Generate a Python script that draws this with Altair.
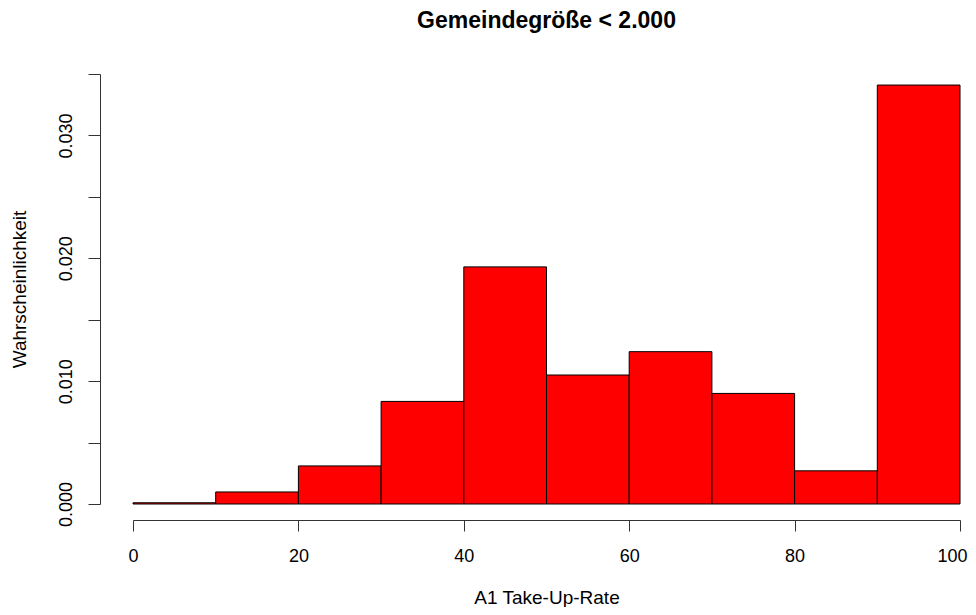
import altair as alt
import pandas as pd

bin_start = [0, 10, 20, 30, 40, 50, 60, 70, 80, 90]
bin_end = [10, 20, 30, 40, 50, 60, 70, 80, 90, 100]
density = [0.0001, 0.00098, 0.0031, 0.00835, 0.0193, 0.0105, 0.0124, 0.0090, 0.0027, 0.0341]

x_ticks = [0, 20, 40, 60, 80, 100]
y_ticks = [0, 0.005, 0.01, 0.015, 0.02, 0.025, 0.03, 0.035]

df = pd.DataFrame({"start": bin_start, "end": bin_end, "density": density})

FONT = "Liberation Sans"

chart = alt.Chart(df).mark_rect(
    color="#FF0000", stroke="#000000", strokeWidth=1, opacity=1
).encode(
    x=alt.X("start:Q", scale=alt.Scale(domain=[0, 100], nice=False, zero=False),
            axis=alt.Axis(values=x_ticks, title="A1 Take-Up-Rate", grid=False,
                          offset=16, tickSize=11, labelPadding=16, titlePadding=23,
                          labelAlign={"condition": {"test": "datum.value == 100", "value": "right"}, "value": "center"},
                          labelOffset={"condition": {"test": "datum.value == 100", "value": 7}, "value": 0},
                          labelFontSize=18, titleFontSize=19, titleFontWeight="normal",
                          labelFont=FONT, titleFont=FONT, domainColor="#333333",
                          tickColor="#333333", labelColor="#000000", titleColor="#000000",
                          labelFlush=False)),
    x2="end:Q",
    y=alt.Y("density:Q", scale=alt.Scale(domain=[0, 0.035], nice=False),
            axis=alt.Axis(values=y_ticks, title="Wahrscheinlichkeit", grid=False,
                          offset=33, tickSize=12, labelPadding=13, titlePadding=28,
                          labelAngle=270, labelAlign="center", labelBaseline="bottom",
                          labelExpr="round(datum.value*1000) % 10 == 0 ? format(datum.value, '.3f') : ''",
                          labelFontSize=18, titleFontSize=19, titleFontWeight="normal",
                          labelFont=FONT, titleFont=FONT, domainColor="#333333",
                          tickColor="#333333", labelColor="#000000", titleColor="#000000",
                          labelFlush=False)),
    y2=alt.datum(0),
).properties(
    width=827,
    height=430,
    title=alt.TitleParams("Gemeindegröße < 2.000", font=FONT, fontSize=23,
                          fontWeight="bold", anchor="middle", offset=41, color="#000000"),
    autosize=alt.AutoSizeParams(type="none"),
    padding={"left": 125, "top": 66, "right": 8, "bottom": 103},
).configure_view(stroke=None)

chart.save("out.html", embed_options={"renderer": "svg", "actions": False})
